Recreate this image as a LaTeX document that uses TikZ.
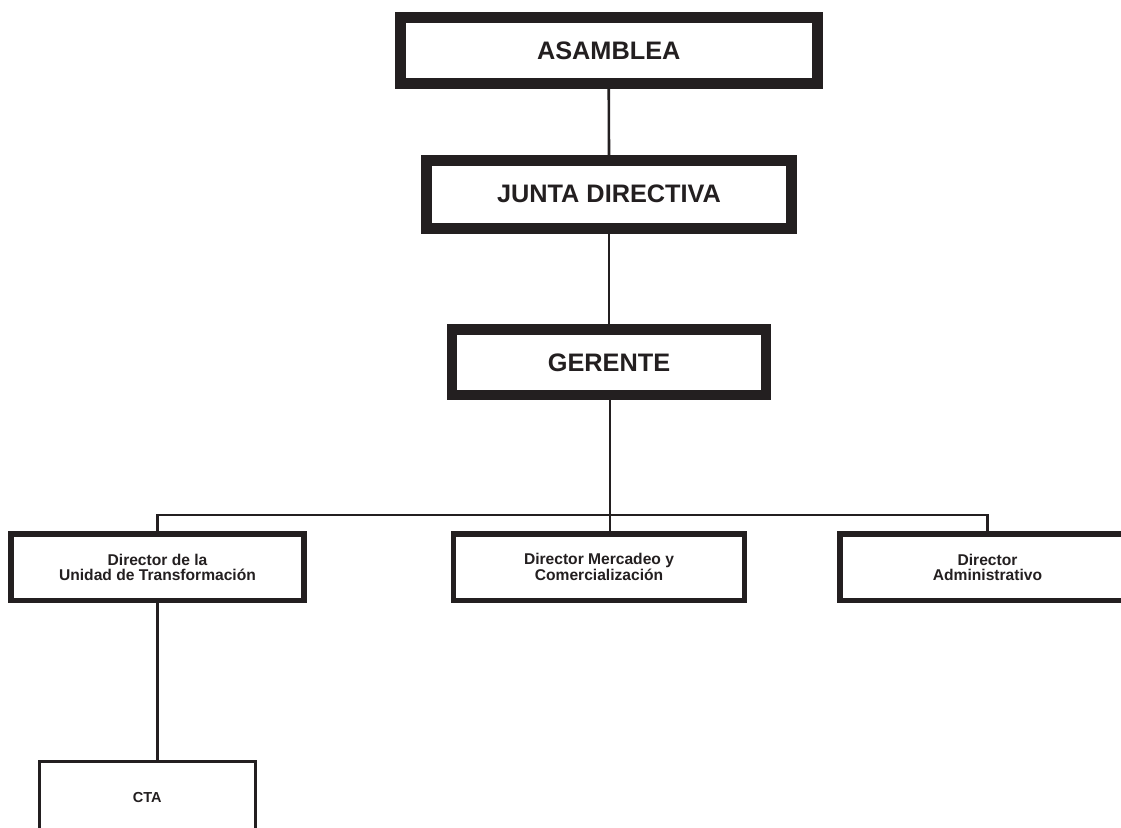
\documentclass[tikz,border=0pt]{standalone}
\usepackage{fontspec}
\setmainfont{Liberation Sans}
\definecolor{ink}{HTML}{231F20}
\begin{document}
\begin{tikzpicture}[x=1pt,y=-1pt,
  big/.style={draw=ink,line width=11pt,rectangle,inner sep=0pt,text=ink,
    font=\fontsize{25.3}{28}\selectfont\bfseries},
  dir/.style={draw=ink,line width=5.2pt,rectangle,inner sep=0pt,text=ink,align=center,
    font=\fontsize{15.6}{14.4}\selectfont\bfseries},
  small/.style={draw=ink,line width=3pt,rectangle,inner sep=0pt,text=ink,
    font=\fontsize{14.5}{16}\selectfont\bfseries},
  link/.style={draw=ink,line width=2.6pt}]
\useasboundingbox (0,0) rectangle (1121,827);
\clip (0,0) rectangle (1121,827);
\fill[white] (0,0) rectangle (1121,827);
\node[big,minimum width=416.5pt,minimum height=66pt] (asam) at (608.75,50.5) {ASAMBLEA};
\node[big,minimum width=365pt,minimum height=67.5pt] (junta) at (609,194.25) {JUNTA DIRECTIVA};
\node[big,line width=10.5pt,minimum width=313.7pt,minimum height=65.3pt] (ger) at (609,362.35) {GERENTE};
\node[dir,minimum width=293pt,minimum height=66.5pt] (d1) at (157.5,567.25) {Director de la\\Unidad de Transformación};
\node[dir,minimum width=291.4pt,minimum height=66.5pt] (d2) at (599,567.25) {Director Mercadeo y\\Comercialización};
\node[dir,minimum width=295pt,minimum height=66.5pt] (d3) at (987.5,567.25) {Director\\Administrativo};
\node[small,minimum width=216.5pt,minimum height=71pt] (cta) at (147.25,797) {CTA};
\coordinate (bus) at (0,515);
\coordinate (gx) at (610,0);
\draw[link] (asam.south) -- (junta.north);
\draw[link] (junta.south) -- (ger.north);
\draw[link] (ger.south -| gx) -- (d2.north -| gx);
\draw[link] (d1.north) -- (d1.north |- bus) -- (d3.north |- bus) -- (d3.north);
\draw[link] (d1.south) -- (d1.south |- cta.north);
\end{tikzpicture}
\end{document}
